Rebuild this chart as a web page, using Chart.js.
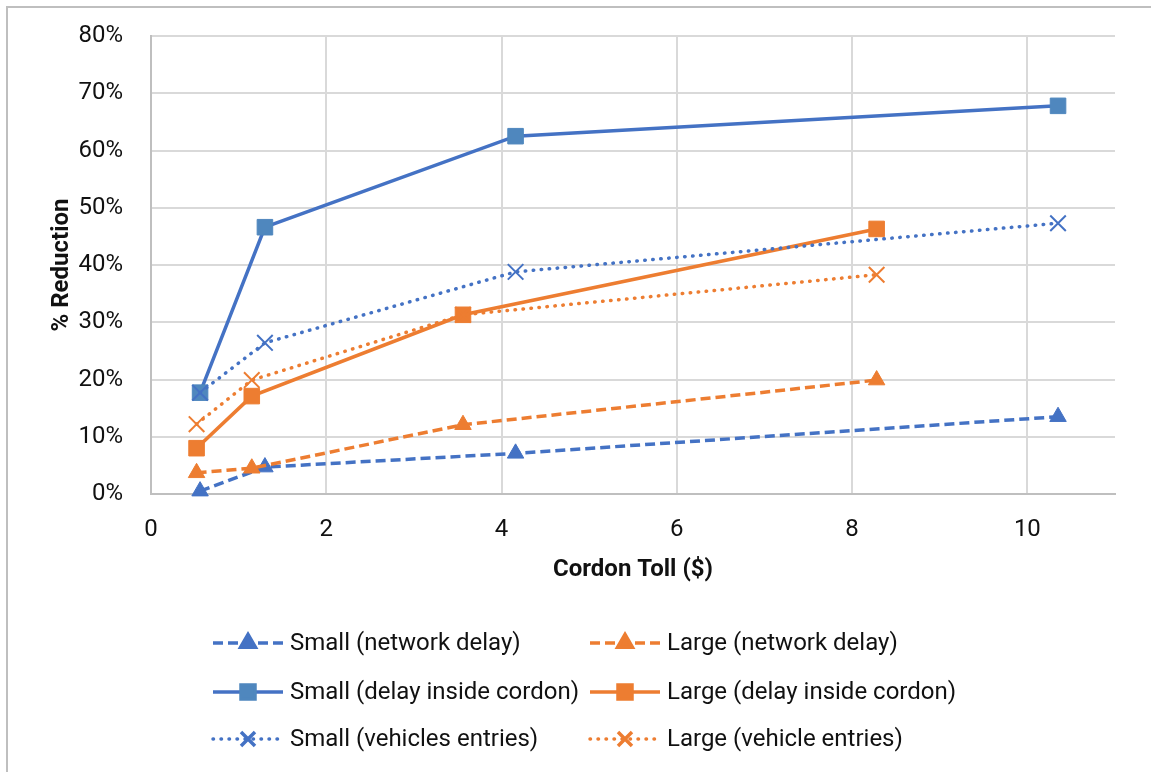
<!DOCTYPE html>
<html>
<head>
<meta charset="utf-8">
<script src="https://cdn.jsdelivr.net/npm/chart.js@4.4.1/dist/chart.umd.min.js"></script>
<style>
  html, body { margin: 0; padding: 0; background: #fff; }
  #wrap { position: relative; width: 1151px; height: 772px; }
</style>
</head>
<body>
<div id="wrap"><canvas id="tollChart" width="1151" height="772"></canvas></div>
<script>
// toll levels ($) for the two cordon sizes
const smallToll = [0.56, 1.30, 4.16, 10.35];
const largeToll = [0.52, 1.15, 3.56, 8.28];

// % reduction
const smallNetwork = [0.5, 4.7, 7.1, 13.5];
const largeNetwork = [3.7, 4.5, 12.1, 19.9];
const smallCordon = [17.7, 46.6, 62.5, 67.8];
const largeCordon = [8.0, 17.1, 31.3, 46.3];
const smallEntries = [17.7, 26.4, 38.8, 47.3];
const largeEntries = [12.2, 19.9, 31.3, 38.3];

const labels = [
    'Small (network delay)', 'Large (network delay)',
    'Small (delay inside cordon)', 'Large (delay inside cordon)',
    'Small (vehicles entries)', 'Large (vehicle entries)'
];

const BLUE = '#4472C4';
const ORANGE = '#ED7D31';

function pts(xs, ys) {
    return xs.map((x, i) => ({ x: x, y: ys[i] }));
}

const dashed = [10, 5];
const dotted = [0.5, 7.5];

const datasets = [
    { label: labels[0], data: pts(smallToll, smallNetwork), borderColor: BLUE, borderDash: dashed,
      pointStyle: 'triangle', pointRadius: 9.5, pointBackgroundColor: BLUE, pointBorderColor: BLUE, pointBorderWidth: 1 },
    { label: labels[1], data: pts(largeToll, largeNetwork), borderColor: ORANGE, borderDash: dashed,
      pointStyle: 'triangle', pointRadius: 9.5, pointBackgroundColor: ORANGE, pointBorderColor: ORANGE, pointBorderWidth: 1 },
    { label: labels[2], data: pts(smallToll, smallCordon), borderColor: BLUE, borderDash: [],
      pointStyle: 'rect', pointRadius: 11, pointBackgroundColor: '#4F87BE', pointBorderColor: '#4F87BE', pointBorderWidth: 1 },
    { label: labels[3], data: pts(largeToll, largeCordon), borderColor: ORANGE, borderDash: [],
      pointStyle: 'rect', pointRadius: 11, pointBackgroundColor: ORANGE, pointBorderColor: ORANGE, pointBorderWidth: 1 },
    { label: labels[4], data: pts(smallToll, smallEntries), borderColor: BLUE, borderDash: dotted, borderCapStyle: 'round',
      pointStyle: 'crossRot', pointRadius: 11, pointBackgroundColor: BLUE, pointBorderColor: BLUE, pointBorderWidth: 2 },
    { label: labels[5], data: pts(largeToll, largeEntries), borderColor: ORANGE, borderDash: dotted, borderCapStyle: 'round',
      pointStyle: 'crossRot', pointRadius: 11, pointBackgroundColor: ORANGE, pointBorderColor: ORANGE, pointBorderWidth: 2 }
];
// later series go on top, like in the spreadsheet
datasets.forEach((d, i) => {
    d.borderWidth = 3.5;
    d.fill = false;
    d.tension = 0;
    d.order = datasets.length - i;
    d.clip = false;
});

// frame + 2 column legend under the plot
const frameAndLegend = {
    id: 'frameAndLegend',
    beforeDraw(chart) {
        const ctx = chart.ctx;
        ctx.save();
        ctx.fillStyle = '#fff';
        ctx.fillRect(0, 0, chart.width, chart.height);
        ctx.strokeStyle = '#BFBFBF';
        ctx.lineWidth = 2;
        ctx.beginPath();
        ctx.moveTo(7, chart.height);
        ctx.lineTo(7, 7);
        ctx.lineTo(chart.width, 7);
        ctx.stroke();
        ctx.restore();
    },
    afterDraw(chart) {
        const ctx = chart.ctx;
        const colX = [213, 590];
        const rowY = [643, 692, 739];
        chart.data.datasets.forEach((ds, i) => {
            const x = colX[i % 2];
            const y = rowY[Math.floor(i / 2)];
            ctx.save();
            ctx.strokeStyle = ds.borderColor;
            ctx.lineWidth = ds.borderWidth;
            ctx.lineCap = ds.borderCapStyle || 'butt';
            ctx.setLineDash(ds.borderDash);
            ctx.beginPath();
            ctx.moveTo(x, y);
            ctx.lineTo(x + 70, y);
            ctx.stroke();
            ctx.setLineDash([]);
            ctx.lineCap = 'butt';
            ctx.fillStyle = ds.pointBackgroundColor;
            ctx.strokeStyle = ds.pointBorderColor;
            Chart.helpers.drawPoint(ctx, {
                pointStyle: ds.pointStyle,
                radius: ds.pointRadius * 0.9,
                borderWidth: ds.pointBorderWidth,
                rotation: 0
            }, x + 35, y);
            ctx.fillStyle = '#111';
            ctx.font = '24px Roboto';
            ctx.textBaseline = 'middle';
            ctx.textAlign = 'left';
            ctx.fillText(ds.label, x + 77, y + 1);
            ctx.restore();
        });
    }
};

Chart.defaults.font.family = 'Roboto';
Chart.defaults.color = '#111';

new Chart(document.getElementById('tollChart'), {
    type: 'line',
    data: { datasets: datasets },
    options: {
        responsive: false,
        animation: false,
        devicePixelRatio: 1,
        layout: { padding: { left: 0, top: 36, right: 36, bottom: 178 } },
        plugins: { legend: { display: false }, tooltip: { enabled: false } },
        scales: {
            x: {
                type: 'linear',
                min: 0,
                max: 11,
                ticks: { stepSize: 2, padding: 22, font: { size: 24 }, color: '#111' },
                afterBuildTicks: s => { s.ticks = s.ticks.filter(t => t.value % 2 === 0); },
                afterFit: s => { s.height = 100; },
                grid: { color: '#D9D9D9', lineWidth: 2, drawTicks: false },
                border: { color: '#BFBFBF', width: 2 },
                title: { display: true, text: 'Cordon Toll ($)', font: { size: 24, weight: 'bold' },
                         color: '#111', padding: { top: 0, bottom: 10 } }
            },
            y: {
                min: 0,
                max: 80,
                ticks: { stepSize: 10, padding: 28, font: { size: 24 }, color: '#111',
                         callback: v => v + '%' },
                afterFit: s => { s.width = 151; s.paddingTop = 0; s.paddingBottom = 0; },
                grid: { color: '#D9D9D9', lineWidth: 2, drawTicks: false },
                border: { color: '#BFBFBF', width: 2 },
                title: { display: true, text: '% Reduction', font: { size: 24, weight: 'bold' },
                         color: '#111', padding: { top: 48, bottom: 0 } }
            }
        }
    },
    plugins: [frameAndLegend]
});
</script>
</body>
</html>
